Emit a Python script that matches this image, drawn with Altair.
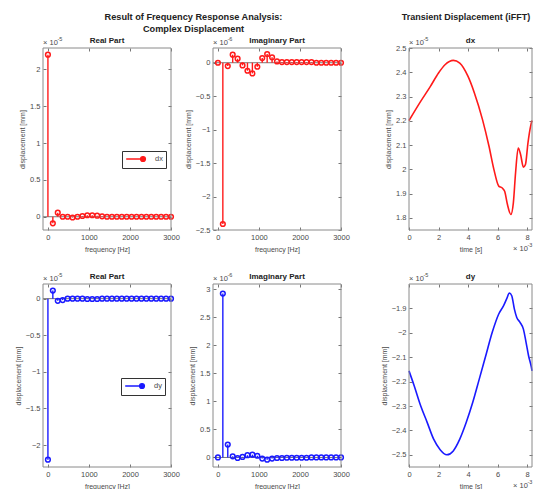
import altair as alt
import pandas as pd

# ---------------- data ----------------
freq = [0, 120, 240, 360, 480, 600, 720, 840, 960, 1080, 1200, 1320, 1440,
        1560, 1680, 1800, 1920, 2040, 2160, 2280, 2400, 2520, 2640, 2760, 2880, 3000]

# real part in 1e-5 mm, imaginary part in 1e-6 mm
re_dx = [2.2, -0.09, 0.055, 0.0, 0.0, -0.01, 0.0, 0.01, 0.02, 0.02, 0.015, 0.005, 0.0,
         0.0, 0.0, 0.0, 0.0, 0.0, 0.0, 0.0, 0.0, 0.0, 0.0, 0.0, 0.0, 0.0]
im_dx = [0.0, -2.41, -0.05, 0.12, 0.06, -0.04, -0.12, -0.16, -0.06, 0.07, 0.13, 0.08, 0.02,
         0.01, 0.01, 0.01, 0.01, 0.01, 0.01, 0.01, 0.0, 0.0, 0.0, 0.0, 0.0, 0.0]
re_dy = [-2.2, 0.11, -0.03, -0.02, 0.0, 0.0, 0.0, 0.0, -0.005, -0.005, -0.005, 0.0, 0.0,
         0.0, 0.0, 0.0, 0.0, 0.0, 0.0, 0.0, 0.0, 0.0, 0.0, 0.0, 0.0, 0.0]
im_dy = [0.0, 2.92, 0.23, 0.02, -0.01, 0.01, 0.04, 0.05, 0.03, -0.02, -0.04, -0.02, -0.01,
         -0.01, -0.005, -0.005, -0.005, -0.005, -0.005, 0.0, 0.0, 0.0, 0.0, 0.0, 0.0, 0.0]

# transient displacement: time in 1e-3 s, values in 1e-5 mm
t_dx = [0.0, 0.79, 1.45, 2.0, 2.44, 3.0, 3.44, 4.0, 4.43, 4.98, 5.42, 5.75, 6.08, 6.3,
        6.48, 6.67, 6.9, 7.07, 7.22, 7.4, 7.56, 7.75, 7.89, 8.06, 8.24, 8.333]
v_dx = [2.201, 2.28, 2.342, 2.397, 2.431, 2.449, 2.438, 2.383, 2.315, 2.205, 2.095, 2.0,
        1.931, 1.924, 1.91, 1.855, 1.814, 1.862, 1.986, 2.088, 2.061, 2.009, 2.02, 2.109,
        2.178, 2.201]
t_dy = [0.0, 0.35, 0.79, 1.23, 1.67, 2.11, 2.56, 3.0, 3.44, 3.88, 4.32, 4.76, 5.2, 5.64,
        6.08, 6.41, 6.63, 6.8, 6.96, 7.14, 7.3, 7.52, 7.75, 7.93, 8.1, 8.28, 8.333]
v_dy = [-2.156, -2.217, -2.299, -2.367, -2.436, -2.479, -2.5, -2.484, -2.436, -2.367,
        -2.285, -2.19, -2.094, -1.998, -1.923, -1.889, -1.859, -1.837, -1.848, -1.903,
        -1.937, -1.957, -1.985, -2.039, -2.094, -2.138, -2.156]

freq_dom = [-120, 3000]
time_dom = [0, 8.333]
freq_ticks = [0, 1000, 2000, 3000]
time_ticks = [0, 2, 4, 6, 8]

# ---------------- layout / style ----------------
VIEW_W, VIEW_H = 525, 481
COLS = [(35, 163), (205, 333), (401, 524)]   # panel left/right (view px)
ROWS = [(40, 222), (276, 459)]               # panel top/bottom (view px)

RED = "#ff1a1a"
BLUE = "#1a1aff"
FONT = "Liberation Sans"
TXT = "#4a4a4a"
DARK = "#222222"
FRAME = "#8a8a8a"
LEG_PATH = "M-2.2,0L2.0,0M1.4,0A0.6,0.6 0 1,0 2.6,0A0.6,0.6 0 1,0 1.4,0"
ONE = pd.DataFrame({"a": [0]})


def label(text, x, y, size=7.5, bold=False, align="left", color=TXT, baseline="alphabetic"):
    return alt.Chart(ONE).mark_text(align=align, baseline=baseline, fontSize=size,
                                    font=FONT, color=color,
                                    fontWeight="bold" if bold else "normal").encode(
        x=alt.value(x), y=alt.value(y), text=alt.value(text))


def exponent(exp, x, y):
    return [label("\u00d7 10", x, y), label(exp, x + 14.5, y - 3.8, size=5.5)]


COMMON = dict(grid=False, domain=False, tickSize=3, tickColor="#777777", labelFlush=False,
              labelOverlap=False, labelFont=FONT, labelFontSize=7.5, labelColor=TXT,
              titleFont=FONT, titleFontSize=7, titleFontWeight="normal", titleColor=TXT)


def bottom_axis(B, ticks, title):
    return alt.Axis(orient="bottom", offset=(B - 3) - VIEW_H, values=ticks, title=title,
                    labelPadding=3.5, titlePadding=4.5, format="d", **COMMON)


def left_axis(L, ticks):
    return alt.Axis(orient="left", offset=-(L + 3), values=ticks, title="displacement [mm]",
                    labelPadding=3, titlePadding=4, format="~g", **COMMON)


def top_axis(T, ticks):
    return alt.Axis(orient="top", offset=-(T + 3), values=ticks, title=None, labels=False,
                    **COMMON)


def right_axis(R, ticks):
    return alt.Axis(orient="right", offset=(R - 3) - VIEW_W, values=ticks, title=None,
                    labels=False, **COMMON)


def frame_layer(xs, ys, xdom, ydom, xticks, yticks, T, R):
    fdf = pd.DataFrame({"x0": [xdom[0]], "x1": [xdom[1]], "y0": [ydom[0]], "y1": [ydom[1]]})
    return alt.Chart(fdf).mark_rect(fillOpacity=0, stroke=FRAME, strokeWidth=1).encode(
        x=alt.X("x0:Q", scale=xs, axis=top_axis(T, xticks)), x2="x1:Q",
        y=alt.Y("y0:Q", scale=ys, axis=right_axis(R, yticks)), y2="y1:Q")


def stem_panel(ci, ri, values, color, ydom, yticks, title, exp, series=None, leg=None):
    L, R = COLS[ci]
    T, B = ROWS[ri]
    xs = alt.Scale(domain=freq_dom, range=[L, R], nice=False, zero=False)
    ys = alt.Scale(domain=ydom, range=[B, T], nice=False, zero=False)
    df = pd.DataFrame({"f": freq, "v": values, "s": series or "s"})
    x = alt.X("f:Q", scale=xs, axis=bottom_axis(B, freq_ticks, "frequency [Hz]"))
    y = alt.Y("v:Q", scale=ys, axis=left_axis(L, yticks))
    base = alt.Chart(df).encode(x=x, y=y)
    baseline = alt.Chart(ONE).mark_rule(color="#555555", strokeWidth=0.8).encode(
        x=alt.XDatum(freq_dom[0], scale=xs), x2=alt.X2Datum(freq_dom[1]),
        y=alt.YDatum(0, scale=ys))
    if series:
        stems = base.mark_rule(strokeWidth=1.4).encode(
            y2=alt.Y2Datum(0),
            color=alt.Color("s:N", scale=alt.Scale(range=[color]),
                            legend=alt.Legend(orient="none", legendX=leg[0], legendY=leg[1],
                                              title=None, strokeColor="#333333", fillColor="white",
                                              padding=3, symbolType=LEG_PATH, symbolSize=64,
                                              symbolStrokeWidth=1.4, symbolFillColor=color,
                                              symbolOffset=5, labelOffset=15, labelFontSize=7.5,
                                              labelFont=FONT, labelColor=TXT)))
    else:
        stems = base.mark_rule(strokeWidth=1.4, color=color).encode(y2=alt.Y2Datum(0))
    pts = base.mark_point(filled=False, size=22, strokeWidth=1.5, color=color, opacity=1)
    data_layer = alt.layer(baseline, stems, pts)
    texts = exponent(exp, L, T - 3.5) + [
        label(title, (L + R) / 2, T - 5, size=8, bold=True, align="center", color=DARK)]
    return [data_layer, frame_layer(xs, ys, freq_dom, ydom, freq_ticks, yticks, T, R)] + texts


def line_panel(ci, ri, t, v, color, ydom, yticks, title):
    L, R = COLS[ci]
    T, B = ROWS[ri]
    xs = alt.Scale(domain=time_dom, range=[L, R], nice=False, zero=False)
    ys = alt.Scale(domain=ydom, range=[B, T], nice=False, zero=False)
    df = pd.DataFrame({"t": t, "v": v})
    line = alt.Chart(df).mark_line(color=color, strokeWidth=1.6, interpolate="monotone").encode(
        x=alt.X("t:Q", scale=xs, axis=bottom_axis(B, time_ticks, "time [s]")),
        y=alt.Y("v:Q", scale=ys, axis=left_axis(L, yticks)))
    texts = exponent("-3", R - 19, B + 21) + exponent("-5", L, T - 3.5) + [
        label(title, (L + R) / 2, T - 5, size=8, bold=True, align="center", color=DARK)]
    return [line, frame_layer(xs, ys, time_dom, ydom, time_ticks, yticks, T, R)] + texts


children = []
children += stem_panel(0, 0, re_dx, RED, [-0.18, 2.29], [0, 0.5, 1, 1.5, 2], "Real Part", "-5",
                       series="dx", leg=(114, 143))
children += stem_panel(1, 0, im_dx, RED, [-2.5, 0.22], [-2.5, -2, -1.5, -1, -0.5, 0],
                       "Imaginary Part", "-6")
children += line_panel(2, 0, t_dx, v_dx, RED, [1.75, 2.5],
                       [1.8, 1.9, 2.0, 2.1, 2.2, 2.3, 2.4, 2.5], "dx")
children += stem_panel(0, 1, re_dy, BLUE, [-2.3, 0.2], [-2, -1.5, -1, -0.5, 0], "Real Part", "-5",
                       series="dy", leg=(113, 370))
children += stem_panel(1, 1, im_dy, BLUE, [-0.17, 3.09], [0, 0.5, 1, 1.5, 2, 2.5, 3],
                       "Imaginary Part", "-6")
children += line_panel(2, 1, t_dy, v_dy, BLUE, [-2.55, -1.8],
                       [-2.5, -2.4, -2.3, -2.2, -2.1, -2.0, -1.9], "dy")

# overall headings
children += [
    label("Result of Frequency Response Analysis:", 185.5, 8.7, size=9.2, bold=True,
          align="center", color=DARK, baseline="middle"),
    label("Complex Displacement", 185.5, 21, size=9.2, bold=True, align="center", color=DARK,
          baseline="middle"),
    label("Transient Displacement (iFFT)", 458, 8.7, size=9, bold=True,
          align="center", color=DARK, baseline="middle"),
]

chart = alt.layer(*children).resolve_scale(
    x="independent", y="independent", color="independent"
).properties(
    width=VIEW_W, height=VIEW_H, padding=0,
    autosize=alt.AutoSizeParams(type="none")
).configure_view(stroke=None)

chart.save("out.html", embed_options={"renderer": "svg", "actions": False})
